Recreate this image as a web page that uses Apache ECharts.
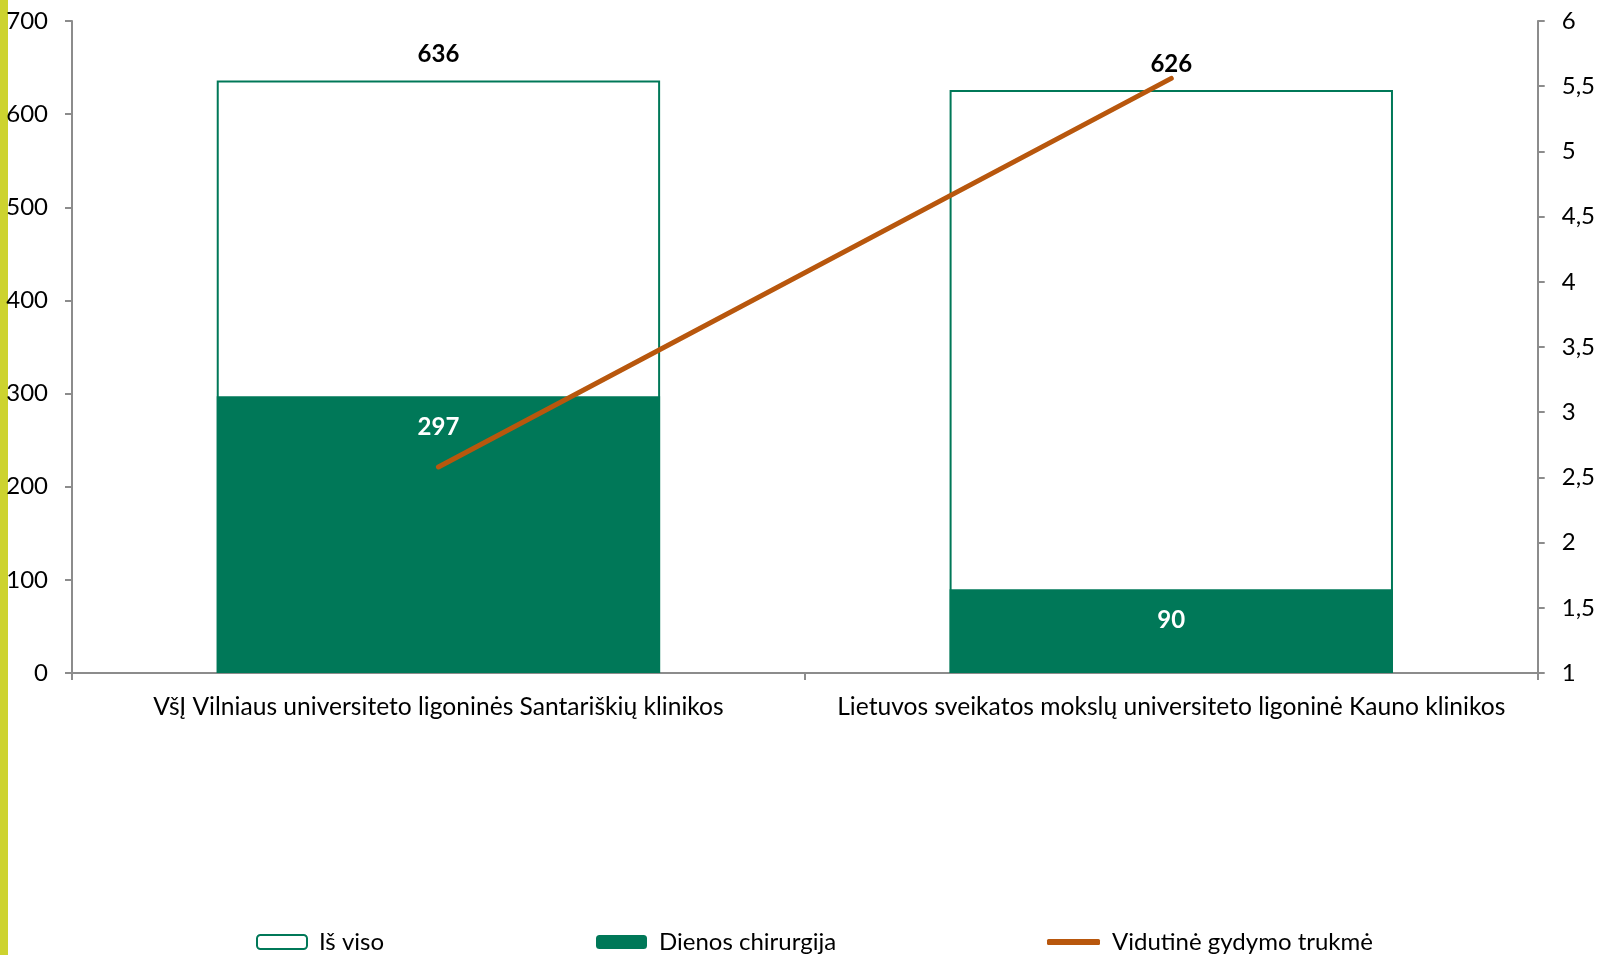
<!DOCTYPE html>
<html>
<head>
<meta charset="utf-8">
<script src="https://cdn.jsdelivr.net/npm/echarts@6/dist/echarts.min.js"></script>
<style>
  html, body { margin: 0; padding: 0; background: #fff; }
  #chart { width: 1598px; height: 955px; }
</style>
</head>
<body>
<div id="chart"></div>
<script>
// Hospitals compared
const categories = [
  'VšĮ Vilniaus universiteto ligoninės Santariškių klinikos',
  'Lietuvos sveikatos mokslų universiteto ligoninė Kauno klinikos'
];
// Number of cases, total and day surgery
const totalCases = [636, 626];
const daySurgery = [297, 90];
// Average length of treatment, days (right axis)
const avgDuration = [2.58, 5.56];

const GREEN = '#007858';
const ORANGE = '#b8570d';
const AXIS = '#8c8c8c';
const FONT = 'Lato, "Open Sans", sans-serif';

const chart = echarts.init(document.getElementById('chart'));

const legendText = { fontFamily: FONT, fontSize: 24, color: '#000', padding: [0, 0, 0, 7] };

chart.setOption({
  animation: false,
  textStyle: { fontFamily: FONT, color: '#000' },
  graphic: [{
    type: 'rect',
    left: 0, top: 0,
    shape: { width: 8, height: 955 },
    style: { fill: '#cdd32f' },
    silent: true
  }],
  grid: { left: 72, right: 60, top: 21, bottom: 282, containLabel: false },
  legend: [
    {
      data: ['Iš viso'], left: 251, top: 925,
      itemWidth: 50, itemHeight: 14,
      textStyle: legendText
    },
    {
      data: ['Dienos chirurgija'], left: 591, top: 925,
      itemWidth: 51, itemHeight: 14,
      textStyle: legendText
    },
    {
      data: [{ name: 'Vidutinė gydymo trukmė', icon: 'roundRect' }],
      left: 1042, top: 925,
      itemWidth: 53, itemHeight: 6,
      textStyle: legendText
    }
  ],
  xAxis: {
    type: 'category',
    data: categories,
    boundaryGap: true,
    axisLine: { lineStyle: { color: AXIS, width: 2 } },
    axisTick: { show: true, length: 7, lineStyle: { color: AXIS, width: 2 } },
    axisLabel: { interval: 0, margin: 22, fontSize: 24.6, color: '#000', fontFamily: FONT }
  },
  yAxis: [
    {
      type: 'value', min: 0, max: 700, interval: 100,
      axisLine: { show: true, lineStyle: { color: AXIS, width: 2 } },
      axisTick: { show: true, length: 7, lineStyle: { color: AXIS, width: 2 } },
      splitLine: { show: false },
      axisLabel: { margin: 24, fontSize: 24, color: '#000', fontFamily: FONT }
    },
    {
      type: 'value', min: 1, max: 6, interval: 0.5,
      position: 'right',
      axisLine: { show: true, lineStyle: { color: AXIS, width: 2 } },
      axisTick: { show: true, length: 7, lineStyle: { color: AXIS, width: 2 } },
      splitLine: { show: false },
      axisLabel: {
        margin: 24, fontSize: 24, color: '#000', fontFamily: FONT,
        formatter: v => String(v).replace('.', ',')
      }
    }
  ],
  series: [
    {
      name: 'Iš viso',
      type: 'bar',
      data: totalCases,
      barWidth: '60.5%',
      barGap: '-100%',
      itemStyle: { color: '#ffffff', borderColor: GREEN, borderWidth: 2 },
      label: {
        show: true, position: 'top', distance: 14,
        fontSize: 24, fontWeight: 'bold', color: '#000', fontFamily: FONT
      },
      z: 2
    },
    {
      name: 'Dienos chirurgija',
      type: 'bar',
      data: daySurgery,
      barWidth: '60.5%',
      barGap: '-100%',
      itemStyle: { color: GREEN },
      label: {
        show: true, position: 'insideTop', distance: 19,
        fontSize: 24, fontWeight: 'bold', color: '#fff', fontFamily: FONT
      },
      z: 3
    },
    {
      name: 'Vidutinė gydymo trukmė',
      type: 'line',
      yAxisIndex: 1,
      data: avgDuration,
      symbol: 'none',
      lineStyle: { color: ORANGE, width: 5, cap: 'round' },
      itemStyle: { color: ORANGE },
      z: 5
    }
  ]
});
</script>
</body>
</html>
